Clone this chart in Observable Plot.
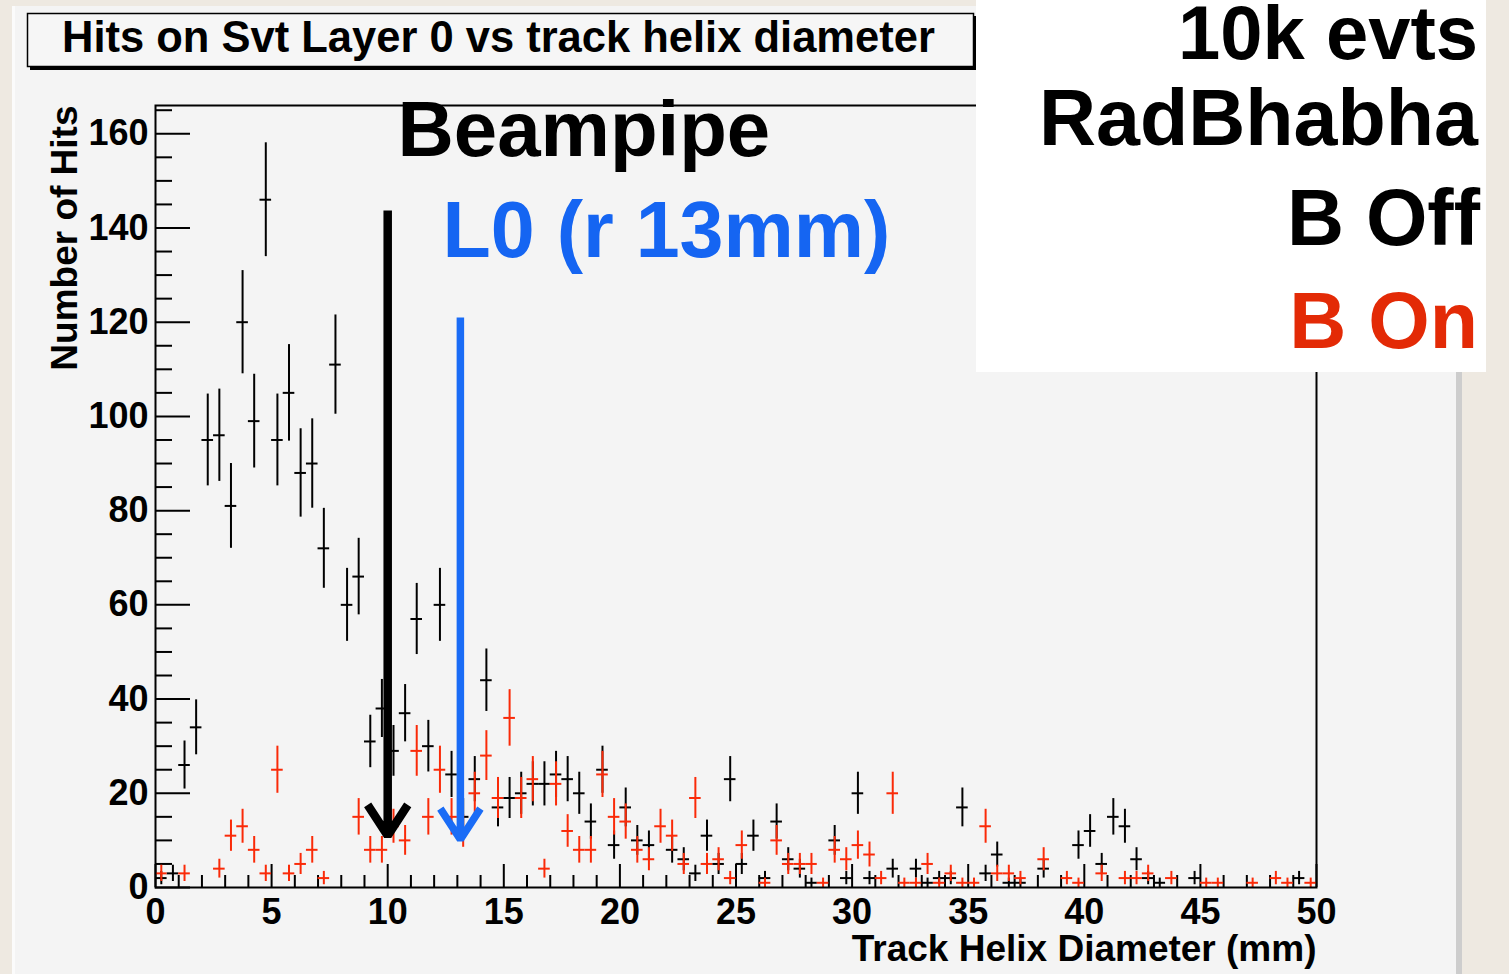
<!DOCTYPE html>
<html>
<head>
<meta charset="utf-8">
<script src="https://cdn.jsdelivr.net/npm/d3@7"></script>
<script src="https://cdn.jsdelivr.net/npm/@observablehq/plot@0.6"></script>
<style>
html, body { margin: 0; padding: 0; }
body { width: 1509px; height: 974px; overflow: hidden; position: relative; background: #eee9e1;
  font-family: "Liberation Sans", Arial, Helvetica, sans-serif; }
#canvas { position: absolute; left: 12px; top: 6px; width: 1444px; height: 968px; background: #f4f4f4; border-left: 3px solid #fbfbfb; }
#rshadow { position: absolute; left: 1456px; top: 372px; width: 6px; height: 602px; background: #cdcdcd; }
#chart { position: absolute; left: 0; top: 0; }
#ann { position: absolute; left: 0; top: 0; pointer-events: none; }
</style>
</head>
<body>
<div id="canvas"></div>
<div id="rshadow"></div>
<div id="chart"></div>
<svg id="ann" width="1509" height="974" xmlns="http://www.w3.org/2000/svg" font-family="'Liberation Sans', Arial, Helvetica, sans-serif" font-weight="bold">
  <rect x="30" y="16" width="946" height="54" fill="#000"></rect>
  <rect x="27.5" y="13.5" width="946" height="53" fill="#f6f6f6" stroke="#000" stroke-width="1.5"></rect>
  <text x="62" y="52" font-size="43.5" fill="#000">Hits on Svt Layer 0 vs track helix diameter</text>
  <rect x="976" y="0" width="510" height="372" fill="#ffffff"></rect>
  <text x="1478" y="59" font-size="76" text-anchor="end" fill="#000">10k evts</text>
  <text x="1478" y="145" font-size="79" text-anchor="end" fill="#000">RadBhabha</text>
  <text x="1480" y="245" font-size="79" text-anchor="end" fill="#000">B Off</text>
  <text x="1478" y="348" font-size="79" text-anchor="end" fill="#e32a06">B On</text>
</svg>
<script>
// Histogram binning: 100 bins of 0.5 mm from 0 to 50 mm
const binStart = 0;
const binWidth = 0.5;

// Counts per bin, B field off (black)
const countsBOff = [
  2, 3, 26, 34, 95, 96, 81, 120, 99, 146,
  95, 105, 88, 90, 72, 111, 60, 66, 31, 38,
  29, 37, 57, 30, 60, 24, 15, 23, 44, 17,
  19, 20, 22, 22, 24, 23, 20, 14, 25, 9,
  17, 10, 9, 0, 8, 6, 3, 11, 5, 23,
  5, 11, 2, 14, 6, 4, 1, 0, 10, 2,
  20, 2, 0, 4, 0, 4, 1, 2, 2, 17,
  0, 3, 7, 1, 1, 0, 4, 0, 0, 9,
  12, 5, 15, 13, 6, 2, 1, 0, 0, 2,
  0, 0, 0, 0, 0, 0, 0, 0, 2, 0
];

// Counts per bin, B field on (red)
const countsBOn = [
  3, 0, 3, 0, 0, 4, 11, 13, 8, 3,
  25, 3, 5, 8, 2, 0, 0, 15, 8, 8,
  13, 10, 29, 15, 25, 15, 12, 20, 28, 19,
  36, 19, 23, 4, 22, 12, 8, 8, 24, 15,
  14, 8, 6, 13, 11, 5, 19, 5, 6, 2,
  9, 0, 1, 10, 5, 5, 5, 1, 8, 6,
  9, 7, 2, 20, 1, 1, 5, 1, 3, 1,
  1, 13, 3, 3, 2, 0, 6, 0, 2, 1,
  0, 3, 0, 2, 2, 3, 0, 2, 0, 0,
  1, 1, 0, 0, 1, 0, 2, 1, 0, 1
];

// Axis ticks
const xMajorTicks = [0, 5, 10, 15, 20, 25, 30, 35, 40, 45, 50];
const xMinorTicks = d3.range(0, 51, 1).filter(v => v % 5 !== 0);
const yMajorTicks = [0, 20, 40, 60, 80, 100, 120, 140, 160];
const yMinorTicks = d3.range(5, 166, 5).filter(v => v % 20 !== 0);

// Annotations (data coordinates)
const arrows = [
  {x: 10, top: 143.7, tip: 11, color: "#000000", width: 8.5},
  {x: 13.13, top: 121, tip: 10.2, color: "#1a6cf6", width: 7.5}
];
const labels = [
  {text: "Beampipe", x: 10.42, y: 160.5, color: "#000000", size: 78},
  {text: "L0 (r 13mm)", x: 12.36, y: 139.3, color: "#1565f2", size: 79}
];

function toPoints(counts) {
  return counts.flatMap((n, i) => n > 0 ? [{
    x: binStart + (i + 0.5) * binWidth,
    x1: binStart + i * binWidth,
    x2: binStart + (i + 1) * binWidth,
    n,
    lo: n - Math.sqrt(n),
    hi: n + Math.sqrt(n)
  }] : []);
}
const off = toPoints(countsBOff);
const on = toPoints(countsBOn);

const FONT = "'Liberation Sans', Arial, Helvetica, sans-serif";
const RED = "#fa2a08";

const chart = Plot.plot({
  width: 1509,
  height: 974,
  marginLeft: 155,
  marginRight: 193,
  marginTop: 105,
  marginBottom: 87,
  x: {domain: [0, 50]},
  y: {domain: [0, 166]},
  style: {background: "transparent", fontFamily: FONT, overflow: "visible"},
  marks: [
    Plot.axisY(yMinorTicks, {tickSize: -17, fill: "none", strokeWidth: 2, stroke: "#000"}),
    Plot.axisY(yMajorTicks, {tickSize: -35, fill: "none", strokeWidth: 2, stroke: "#000"}),
    Plot.axisX(xMinorTicks, {tickSize: -12, fill: "none", strokeWidth: 2, stroke: "#000"}),
    Plot.axisX(xMajorTicks, {tickSize: -23, fill: "none", strokeWidth: 2, stroke: "#000"}),
    Plot.text(yMajorTicks, {y: d => d, frameAnchor: "left", text: d => String(d), textAnchor: "end", lineAnchor: "middle",
      dx: -7, fontSize: 36, fontWeight: "bold", fill: "#000"}),
    Plot.text(xMajorTicks, {x: d => d, frameAnchor: "bottom", text: d => String(d), lineAnchor: "middle", dy: 25,
      fontSize: 36, fontWeight: "bold", fill: "#000"}),
    Plot.text(["Number of Hits"], {frameAnchor: "top-left", text: d => d, rotate: -90, textAnchor: "end", lineAnchor: "middle",
      dx: -90, fontSize: 37, fontWeight: "bold", fill: "#000"}),
    Plot.text(["Track Helix Diameter (mm)"], {frameAnchor: "bottom-right", text: d => d, textAnchor: "end", lineAnchor: "middle",
      dy: 62, fontSize: 37, fontWeight: "bold", fill: "#000"}),
    // B off (black)
    Plot.ruleX(off, {x: "x", y1: "lo", y2: "hi", stroke: "#000", strokeWidth: 2}),
    Plot.ruleY(off, {y: "n", x1: "x1", x2: "x2", stroke: "#000", strokeWidth: 2}),
    // B on (red)
    Plot.ruleX(on, {x: "x", y1: "lo", y2: "hi", stroke: RED, strokeWidth: 2}),
    Plot.ruleY(on, {y: "n", x1: "x1", x2: "x2", stroke: RED, strokeWidth: 2}),
    Plot.frame({stroke: "#000", strokeWidth: 2}),
    // annotation arrows and labels
    ...arrows.map(a => Plot.arrow([a], {x1: "x", x2: "x", y1: "top", y2: "tip", stroke: a.color, strokeWidth: a.width,
      headLength: 6.9 * 8 / a.width, headAngle: 66, strokeLinecap: "butt", strokeLinejoin: "miter"})),
    ...labels.map(l => Plot.text([l], {x: "x", y: "y", text: "text", textAnchor: "start", lineAnchor: "middle",
      fill: l.color, fontSize: l.size, fontWeight: "bold"}))
  ]
});
document.getElementById("chart").appendChild(chart);
</script>
</body>
</html>
